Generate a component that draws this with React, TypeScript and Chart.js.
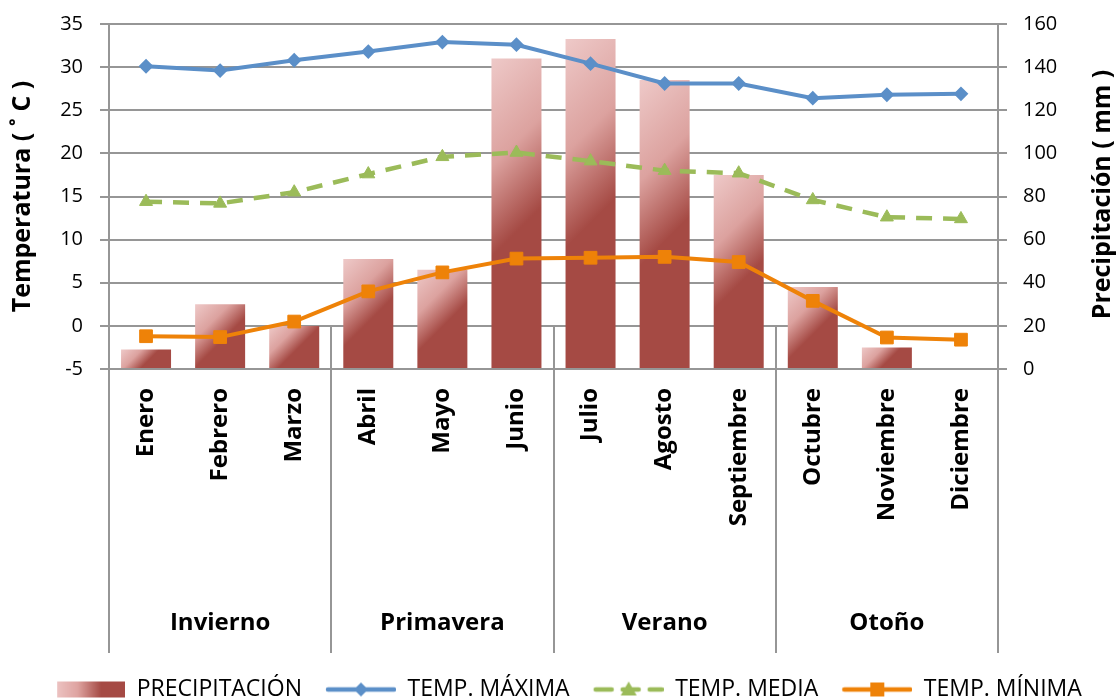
import React, { useEffect, useRef } from 'react';
import { Chart, registerables } from 'chart.js';

Chart.register(...registerables);

const months = ['Enero', 'Febrero', 'Marzo', 'Abril', 'Mayo', 'Junio', 'Julio', 'Agosto', 'Septiembre', 'Octubre', 'Noviembre', 'Diciembre'];
const seasons = ['Invierno', 'Primavera', 'Verano', 'Otoño'];
const precipitation = [9, 30, 20, 51, 46, 144, 153, 134, 90, 38, 10, 0.5];
const tempMax = [30.1, 29.6, 30.8, 31.8, 32.9, 32.6, 30.4, 28.1, 28.1, 26.4, 26.8, 26.9];
const tempMed = [14.4, 14.2, 15.5, 17.6, 19.6, 20.1, 19.1, 18.0, 17.7, 14.6, 12.6, 12.4];
const tempMin = [-1.2, -1.3, 0.5, 4.0, 6.2, 7.8, 7.9, 8.0, 7.4, 2.9, -1.35, -1.6];
const leftTicks = [-5, 0, 5, 10, 15, 20, 25, 30, 35];
const rightTicks = [0, 20, 40, 60, 80, 100, 120, 140, 160];

const FONT = "'Open Sans', sans-serif";
const GRID = '#969696';
const BLUE = '#5b8fc8';
const GREEN = '#9bbb59';
const ORANGE = '#ee8208';
const LIGHT = '#eec9c8';
const MID = '#dca29f';
const DARK = '#a54a44';
const BAR_PCT = 0.675;

function barFill(ctx: any) {
  if (ctx.type !== 'data') return DARK;
  const chart = ctx.chart;
  const xs = chart.scales.x;
  const ys = chart.scales.y1;
  if (!xs || !ys || !chart.chartArea) return DARK;
  const v = ctx.raw as number;
  const cx = xs.getPixelForValue(ctx.dataIndex);
  const w = (xs.width / months.length) * BAR_PCT;
  const x0 = cx - w / 2;
  const top = ys.getPixelForValue(v);
  const base = ys.getPixelForValue(0);
  const h = Math.max(base - top, 1);
  const d = (w + h) / 2;
  const g = chart.ctx.createLinearGradient(x0, top, x0 + d, top + d);
  g.addColorStop(0, LIGHT);
  g.addColorStop(0.3, MID);
  g.addColorStop(0.55, DARK);
  g.addColorStop(1, DARK);
  return g;
}

const ICON_W = 90;
const ICON_H = 22;
const LEAD = 20;

function makeCanvas() {
  const c = document.createElement('canvas');
  c.width = ICON_W;
  c.height = ICON_H;
  return c;
}

function barIcon() {
  const c = makeCanvas();
  const g = c.getContext('2d')!;
  const grad = g.createLinearGradient(LEAD + 2, 0, ICON_W, 0);
  grad.addColorStop(0, '#ecc2c1');
  grad.addColorStop(0.3, '#dfa4a1');
  grad.addColorStop(0.65, DARK);
  grad.addColorStop(1, DARK);
  g.fillStyle = grad;
  g.fillRect(LEAD + 2, 3, 68, 16);
  return c;
}

function lineIcon(color: string, dash: number[], marker: string) {
  const c = makeCanvas();
  const g = c.getContext('2d')!;
  const y = ICON_H / 2;
  g.strokeStyle = color;
  g.lineWidth = 4.5;
  g.lineCap = 'round';
  g.setLineDash(dash);
  g.beginPath();
  g.moveTo(LEAD + 2, y);
  g.lineTo(ICON_W - 2, y);
  g.stroke();
  g.setLineDash([]);
  g.fillStyle = color;
  const cx = LEAD + 35;
  g.beginPath();
  if (marker === 'diamond') {
    g.moveTo(cx, y - 7); g.lineTo(cx + 7, y); g.lineTo(cx, y + 7); g.lineTo(cx - 7, y);
  } else if (marker === 'triangle') {
    g.moveTo(cx, y - 8); g.lineTo(cx + 8, y + 6); g.lineTo(cx - 8, y + 6);
  } else {
    g.rect(cx - 7, y - 7, 14, 14);
  }
  g.closePath();
  g.fill();
  return c;
}

const decorPlugin = {
  id: 'decor',
  afterDraw(chart: any) {
    const { ctx, chartArea, scales } = chart;
    const xs = scales.x;
    const ys = scales.y;
    const yBottom = scales.xg.bottom - 21;
    const y0 = ys.getPixelForValue(0);
    ctx.save();
    ctx.strokeStyle = GRID;
    ctx.lineWidth = 2;
    [2.5, 5.5, 8.5].forEach((v) => {
      const x = Math.round(xs.getPixelForValue(v));
      ctx.beginPath();
      ctx.moveTo(x, y0);
      ctx.lineTo(x, yBottom);
      ctx.stroke();
    });
    [chartArea.left, chartArea.right].forEach((x: number) => {
      ctx.beginPath();
      ctx.moveTo(x, chartArea.bottom);
      ctx.lineTo(x, yBottom);
      ctx.stroke();
    });
    // right axis title, reading bottom to top
    ctx.translate(chart.width - 14, (chartArea.top + chartArea.bottom) / 2 - 2);
    ctx.rotate(-Math.PI / 2);
    ctx.fillStyle = '#000';
    ctx.font = `bold 25px ${FONT}`;
    ctx.textAlign = 'center';
    ctx.textBaseline = 'middle';
    ctx.fillText('Precipitación ( mm )', 0, 0);
    ctx.restore();
  },
};

export default function App() {
  const ref = useRef<HTMLCanvasElement>(null);
  useEffect(() => {
    document.body.style.margin = '0';
    const icons = [barIcon(), lineIcon(BLUE, [], 'diamond'), lineIcon(GREEN, [16, 11], 'triangle'), lineIcon(ORANGE, [], 'square')];
    const chart = new Chart(ref.current!, {
      type: 'bar',
      data: {
        labels: months,
        datasets: [
          {
            type: 'bar',
            label: 'PRECIPITACIÓN',
            data: precipitation,
            yAxisID: 'y1',
            xAxisID: 'x',
            backgroundColor: barFill as any,
            barPercentage: BAR_PCT,
            categoryPercentage: 1,
            order: 10,
          },
          {
            type: 'line',
            label: 'TEMP. MÁXIMA',
            data: tempMax,
            yAxisID: 'y',
            xAxisID: 'x',
            borderColor: BLUE,
            backgroundColor: BLUE,
            borderWidth: 4,
            pointStyle: 'rectRot',
            pointRadius: 6,
            pointBorderWidth: 2,
            tension: 0,
            order: 1,
          },
          {
            type: 'line',
            label: 'TEMP. MEDIA',
            data: tempMed,
            yAxisID: 'y',
            xAxisID: 'x',
            borderColor: GREEN,
            backgroundColor: GREEN,
            borderWidth: 4.5,
            borderDash: [16, 11],
            pointStyle: 'triangle',
            pointRadius: 7.5,
            pointBorderWidth: 1,
            tension: 0,
            order: 2,
          },
          {
            type: 'line',
            label: 'TEMP. MÍNIMA',
            data: tempMin,
            yAxisID: 'y',
            xAxisID: 'x',
            borderColor: ORANGE,
            backgroundColor: ORANGE,
            borderWidth: 4,
            pointStyle: 'rect',
            pointRadius: 9,
            pointBorderWidth: 1,
            tension: 0,
            order: 3,
          },
        ],
      },
      options: {
        responsive: false,
        animation: false,
        devicePixelRatio: 1,
        layout: { padding: { top: 24, left: 0, right: 0, bottom: -11 } },
        plugins: {
          tooltip: { enabled: false },
          legend: {
            position: 'bottom',
            labels: {
              usePointStyle: true,
              pointStyleWidth: ICON_W,
              boxHeight: 22,
              padding: 4,
              color: '#000',
              font: { family: FONT, size: 23 },
              generateLabels: () =>
                ['PRECIPITACIÓN', 'TEMP. MÁXIMA', 'TEMP. MEDIA', 'TEMP. MÍNIMA'].map((t, i) => ({
                  text: t,
                  pointStyle: icons[i] as any,
                  fillStyle: 'transparent',
                  strokeStyle: 'transparent',
                  lineWidth: 0,
                  hidden: false,
                  datasetIndex: i,
                  fontColor: '#000',
                })),
            },
          },
        },
        scales: {
          x: {
            type: 'category',
            position: 'bottom',
            offset: true,
            grid: { display: false },
            border: { display: false },
            ticks: {
              autoSkip: false,
              minRotation: 90,
              maxRotation: 90,
              padding: 11,
              color: '#000',
              font: { family: FONT, size: 24, weight: 'bold' },
            },
            afterFit: (s: any) => { s.height = 200; },
          },
          xg: {
            type: 'category',
            position: 'bottom',
            labels: seasons,
            offset: true,
            grid: { display: false },
            border: { display: false },
            ticks: {
              autoSkip: false,
              maxRotation: 0,
              minRotation: 0,
              padding: 32,
              color: '#000',
              font: { family: FONT, size: 24, weight: 'bold' },
            },
            afterFit: (s: any) => { s.height = 105; },
          },
          y: {
            position: 'left',
            min: -5,
            max: 35,
            afterBuildTicks: (s: any) => { s.ticks = leftTicks.map((v) => ({ value: v })); },
            grid: { color: GRID, lineWidth: 2, tickLength: 9 },
            border: { display: true, color: GRID, width: 2 },
            ticks: { padding: 17, color: '#000', font: { family: FONT, size: 20 } },
            title: {
              display: true,
              text: 'Temperatura ( ˚ C )',
              color: '#000',
              font: { family: FONT, size: 25, weight: 'bold' },
              padding: { top: 8, bottom: 0 },
            },
            afterFit: (s: any) => { s.width = 109; s.paddingTop = 0; s.paddingBottom = 0; },
          },
          y1: {
            position: 'right',
            min: 0,
            max: 160,
            afterBuildTicks: (s: any) => { s.ticks = rightTicks.map((v) => ({ value: v })); },
            grid: { drawOnChartArea: false, color: GRID, lineWidth: 2, tickLength: 9 },
            border: { display: true, color: GRID, width: 2 },
            ticks: { padding: 16, color: '#000', font: { family: FONT, size: 20 } },
            afterFit: (s: any) => { s.width = 119; s.paddingTop = 0; s.paddingBottom = 0; },
          },
        },
      },
      plugins: [decorPlugin],
    });
    return () => chart.destroy();
  }, []);
  return (
    <div style={{ width: 1117, height: 700 }}>
      <canvas ref={ref} width={1117} height={700} />
    </div>
  );
}
